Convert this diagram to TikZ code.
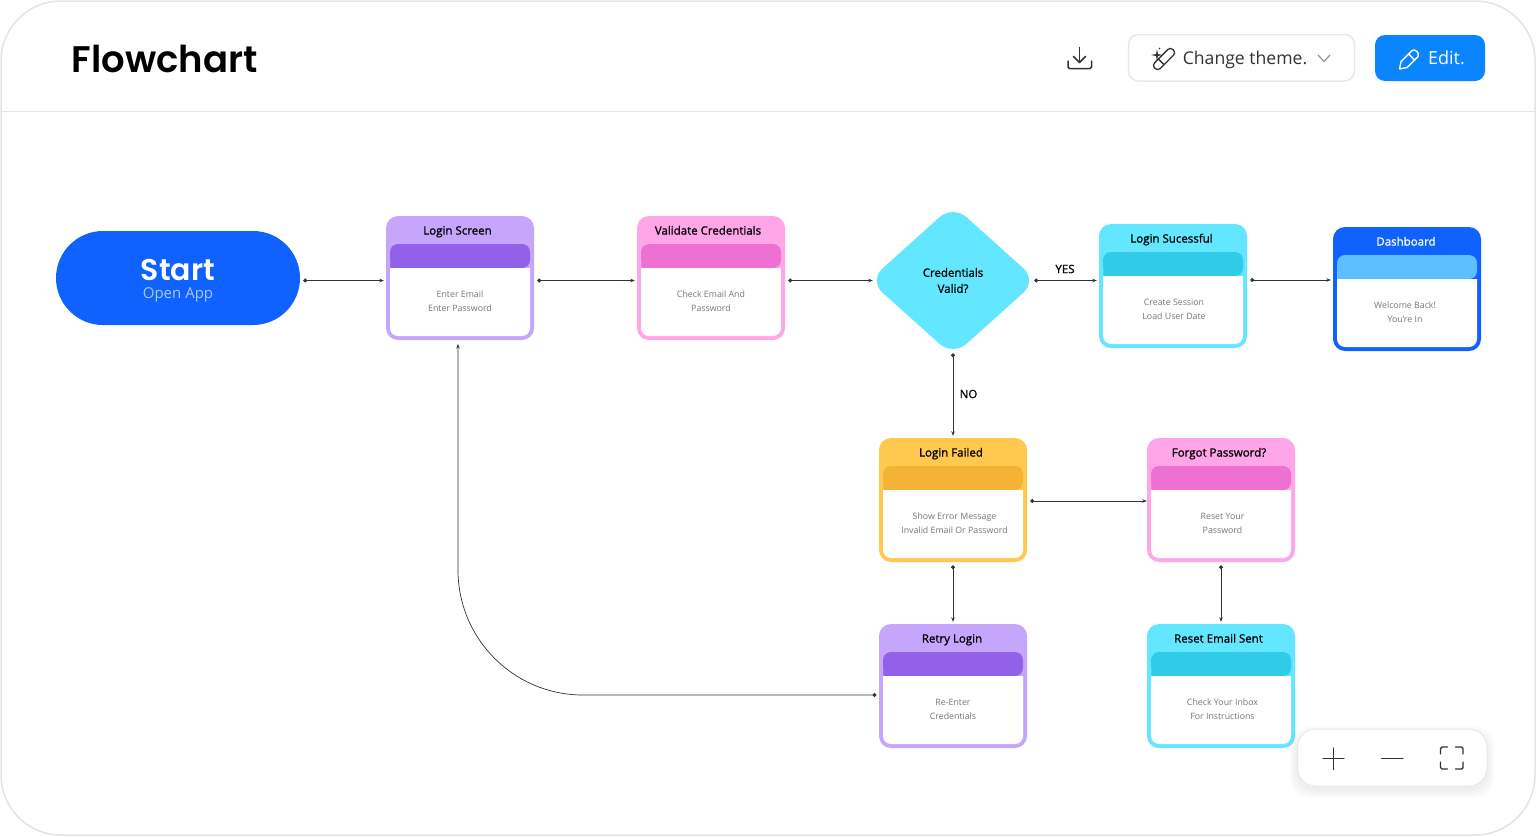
\documentclass[tikz,border=0pt]{standalone}
\usepackage{fontspec}
\setmainfont{Open Sans}
\newfontfamily\headfont{Poppins SemiBold}
\newfontfamily\titlefont{Open Sans}[FakeBold=1]
\usetikzlibrary{arrows.meta,calc,shapes.geometric}
\definecolor{framegray}{HTML}{E4E4E4}
\definecolor{btnborder}{HTML}{E4E8F1}
\definecolor{startblue}{HTML}{0F62FE}
\definecolor{editblue}{HTML}{0A84FF}
\definecolor{subblue}{HTML}{A9C7FF}
\definecolor{purpleA}{HTML}{C5A6FC}
\definecolor{purpleB}{HTML}{9361E9}
\definecolor{pinkA}{HTML}{FFA6E8}
\definecolor{pinkB}{HTML}{EF70D3}
\definecolor{cyanA}{HTML}{63E6FF}
\definecolor{cyanB}{HTML}{2FCBE9}
\definecolor{blueB}{HTML}{5EBFFF}
\definecolor{yellowA}{HTML}{FFC94F}
\definecolor{yellowB}{HTML}{F5B335}
\definecolor{bodygray}{HTML}{777777}
\definecolor{icondark}{HTML}{333333}
\begin{document}
\begin{tikzpicture}[x=1pt,y=-1pt,font=\fontsize{12}{15}\selectfont,
  cardbox/.style={inner sep=0pt, minimum width=148pt, minimum height=124pt, rounded corners=12pt},
  cardtitle/.style={inner sep=0pt, anchor=base, font=\fontsize{11.5}{14}\selectfont\titlefont},
  cardtext/.style={inner sep=0pt, align=center, text=bodygray, font=\fontsize{8.8}{14}\selectfont},
  conn/.style={black!80, line width=0.7pt, {Circle[length=4pt]}-{Stealth[length=4.5pt,width=3.5pt]}, shorten <=3pt, shorten >=2pt},
  edgelabel/.style={inner sep=0pt, font=\fontsize{11.5}{14}\selectfont\titlefont},
  iconline/.style={icondark, line width=1.5pt, line cap=round, line join=round},
  ]
  \useasboundingbox (0,0) rectangle (1536,836);

  %%% outer frame and header rule %%%
  \fill[white] (0,0) rectangle (1536,836);
  \draw[framegray, line width=1.5pt, rounded corners=60pt] (1,1) rectangle (1535,835);
  \draw[framegray, line width=1pt] (1,111) -- (1535,111);

  %%% header %%%
  \node[inner sep=0pt, font=\fontsize{37}{44}\selectfont\headfont] (heading) at (164.5,59) {Flowchart};

  %%% download icon %%%
  \draw[iconline] (1079.5,47.5) -- (1079.5,62.5);
  \draw[iconline] (1073.5,56.5) -- (1079.5,62.5) -- (1085.5,56.5);
  \draw[iconline, rounded corners=1.5pt] (1068,61) -- (1068,68.5) -- (1091.5,68.5) -- (1091.5,61);

  %%% change theme button %%%
  \draw[btnborder, fill=white, line width=1.5pt, rounded corners=10pt] (1128.5,34.5) rectangle (1354.5,81);
  \draw[iconline, line width=1.3pt, rounded corners=3.5pt, rotate around={45:(1164,59)}] (1151,55) rectangle (1177,63);
  \draw[iconline, line width=1.3pt, rotate around={45:(1164,59)}] (1160,55) -- (1160,63);
  \fill[icondark] (1157,49.5) -- (1158,54) -- (1162.5,55) -- (1158,56) -- (1157,60.5) -- (1156,56) -- (1151,55) -- (1156,54) -- cycle;
  \fill[icondark] (1159.5,48.5) circle (0.9);
  \node[inner sep=0pt, anchor=base, text=icondark, font=\fontsize{17.6}{22}\selectfont] (theme) at (1245,64) {Change theme.};
  \draw[gray!80, line width=1.3pt, line cap=round, line join=round] (1318,55) -- (1324,61.5) -- (1330,55);

  %%% edit button %%%
  \fill[editblue, rounded corners=10pt] (1375,35) rectangle (1485,81);
  \draw[white, line width=1.4pt, line join=round] (1399.5,69) -- (1401,61.5) -- (1412,50.5) .. controls (1415,48.5) and (1420,53) .. (1418,56.5) -- (1407,67.5) -- cycle;
  \draw[white, line width=1.4pt] (1408.5,54) -- (1415,60.5);
  \node[inner sep=0pt, anchor=base, text=white, font=\fontsize{18}{22}\selectfont] (edit) at (1446.5,64) {Edit.};

  %%% start pill %%%
  \node[inner sep=0pt, fill=startblue, minimum width=244pt, minimum height=94pt, rounded corners=47pt,
    align=center, text=subblue, font=\fontsize{15}{18}\selectfont] (start) at (178,278)
    {\rule{0pt}{27pt}{\fontsize{30}{18}\selectfont\headfont\color{white}Start}\\Open App};

  %%% decision diamond %%%
  \node[diamond, inner sep=0pt, fill=cyanA, minimum width=168pt, minimum height=151pt, rounded corners=18pt,
    align=center, font=\fontsize{11.5}{16}\selectfont\titlefont] (valid) at (953,280.5) {Credentials\\Valid?};

  %%% process cards %%%
  \foreach \nm/\cx/\cy/\tx/\bx/\ttl/\txt/\cola/\colb/\ctt in {
    login/460/278/457.5/460/Login Screen/{Enter Email\\Enter Password}/purpleA/purpleB/black,
    check/711/278/708/711/Validate Credentials/{Check Email And\\Password}/pinkA/pinkB/black,
    success/1173/286/1171.5/1174/Login Sucessful/{Create Session\\Load User Date}/cyanA/cyanB/black,
    dash/1407/289/1406/1405/Dashboard/{Welcome Back!\\You're In}/startblue/blueB/white,
    failed/953/500/951/954.5/Login Failed/{Show Error Message\\Invalid Email Or Password}/yellowA/yellowB/black,
    forgot/1221/500/1219/1222.5/Forgot Password?/{Reset Your\\Password}/pinkA/pinkB/black,
    retry/953/686/952/953/Retry Login/{Re-Enter\\Credentials}/purpleA/purpleB/black,
    reset/1221/686/1218.5/1222.5/Reset Email Sent/{Check Your Inbox\\For Instructions}/cyanA/cyanB/black} {
    \node[cardbox, fill=\cola] (\nm) at (\cx,\cy) {};
    \fill[\colb] (\cx-70,\cy-10) {[rounded corners=8pt] -- (\cx-70,\cy-34) -- (\cx+70,\cy-34) -- (\cx+70,\cy-10)} -- cycle;
    \fill[white] (\cx-70,\cy-10) -- (\cx+70,\cy-10) {[rounded corners=8pt] -- (\cx+70,\cy+58) -- (\cx-70,\cy+58) -- (\cx-70,\cy-10)} -- cycle;
    \node[cardtitle, text=\ctt] (\nm-title) at (\tx,\cy-43.4) {\ttl};
    \node[cardtext] (\nm-text) at (\bx,\cy+23.6) {\txt};
  }

  %%% connectors %%%
  \coordinate (dashrow) at (1250,280);
  \coordinate (failrow) at (1030,501);
  \coordinate (retryrow) at (879,695);
  \coordinate (loginfoot) at (458,340);
  \draw[conn] (start.east |- valid) -- (login.west |- valid);
  \draw[conn] (login.east |- valid) -- (check.west |- valid);
  \draw[conn, shorten >=-4pt] (check.east |- valid) -- (valid.west);
  \draw[conn, shorten <=-3pt] (valid.east) -- (success.west |- valid);
  \draw[conn] (success.east |- dashrow) -- (dash.west |- dashrow);
  \draw[conn, shorten <=-3pt] (valid.south) -- (failed.north);
  \draw[conn, shorten >=0pt] (failed.east |- failrow) -- (forgot.west |- failrow);
  \draw[conn] (failed.south) -- (retry.north);
  \draw[conn] (forgot.south) -- (reset.north);
  \draw[conn, shorten <=2.5pt, shorten >=4pt, rounded corners=125pt] (retryrow) -- (458,695) -- (loginfoot);

  \node[edgelabel] (yeslabel) at (1065,269) {YES};
  \node[edgelabel] (nolabel) at (968.5,394) {NO};

  %%% zoom control panel %%%
  \foreach \sh in {1,...,8}
    \fill[black, opacity=0.007, rounded corners=20pt] (1297-\sh,729+5-\sh) rectangle (1487+\sh,786+4+\sh);
  \draw[btnborder, fill=white, line width=1pt, rounded corners=18pt] (1297.5,729) rectangle (1487,786);
  \draw[iconline, line width=1.4pt] (1323,758.5) -- (1344,758.5) (1333.5,748) -- (1333.5,769.5);
  \draw[iconline, line width=1.4pt] (1381.5,758.5) -- (1403,758.5);
  \draw[iconline, line width=1.4pt, rounded corners=1.5pt] (1440.5,754) -- (1440.5,747) -- (1447.5,747);
  \draw[iconline, line width=1.4pt, rounded corners=1.5pt] (1455.5,747) -- (1463,747) -- (1463,754);
  \draw[iconline, line width=1.4pt, rounded corners=1.5pt] (1463,762) -- (1463,769) -- (1455.5,769);
  \draw[iconline, line width=1.4pt, rounded corners=1.5pt] (1447.5,769) -- (1440.5,769) -- (1440.5,762);
\end{tikzpicture}
\end{document}
